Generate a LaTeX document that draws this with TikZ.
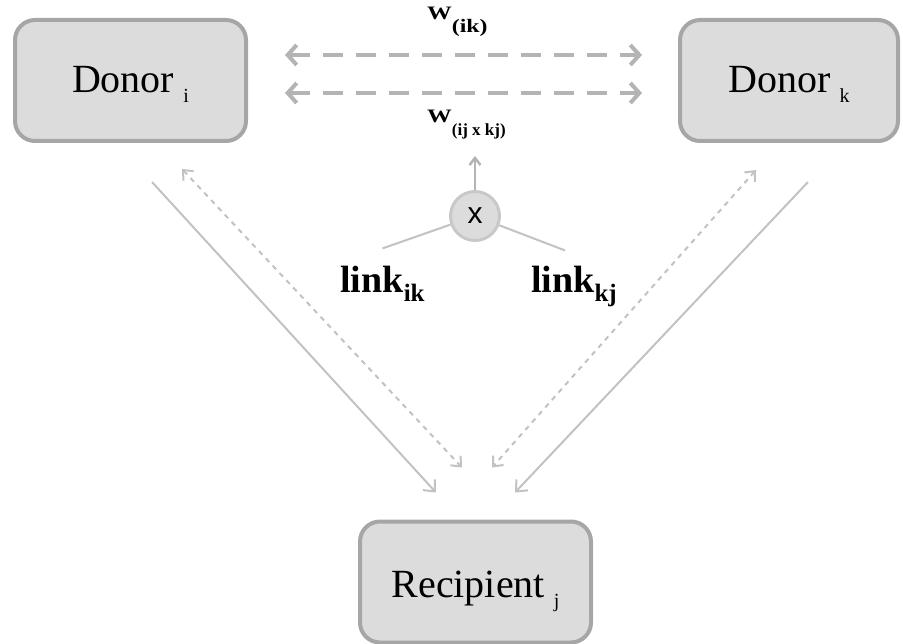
\documentclass[tikz,border=0pt]{standalone}
\usepackage{fontspec}
\setmainfont{Liberation Serif}
\newfontfamily\arialfont{Liberation Sans}
\usetikzlibrary{arrows.meta}
\definecolor{boxfill}{HTML}{DCDCDC}
\definecolor{boxline}{HTML}{A6A6A6}
\definecolor{arrowgray}{HTML}{B4B4B4}
\definecolor{linegray}{HTML}{C2C2C2}
\definecolor{ringgray}{HTML}{C8C8C8}
\newcommand{\fsz}[1]{\fontsize{#1}{#1}\selectfont}
\newcommand{\boxsub}[1]{\smash{\raisebox{-10pt}{\fsz{20}#1}}}
\tikzset{
  party/.style={draw=boxline, fill=boxfill, line width=4pt, rounded corners=20pt,
    minimum width=231pt, minimum height=121pt, inner sep=0pt, font=\fsz{40},
    text height=25pt, text depth=0pt},
  opnode/.style={circle, draw=ringgray, fill=boxfill, line width=3pt,
    minimum size=49pt, inner sep=0pt, font=\arialfont\fsz{30}},
  weightlink/.style={draw=arrowgray, line width=4pt, dash pattern=on 20pt off 13pt,
    {Straight Barb[length=9pt,width=20pt]}-{Straight Barb[length=9pt,width=20pt]}},
  flow/.style={draw=linegray, line width=2pt, -{Straight Barb[length=9pt,width=16pt]}},
  feedback/.style={draw=linegray, line width=2pt, dash pattern=on 5pt off 5pt,
    {Straight Barb[length=8pt,width=14pt]}-{Straight Barb[length=8pt,width=14pt]}},
  thin/.style={draw=linegray, line width=2pt},
  linklabel/.style={inner sep=2pt, anchor=base, font=\bfseries\fsz{38}},
  wlabel/.style={inner sep=0pt, anchor=base west, font=\bfseries}
}
\begin{document}
\begin{tikzpicture}[x=1pt, y=-1pt]
\useasboundingbox (0,0) rectangle (903,644);

% the three parties
\node[party] (Di) at (130.5,80.5) {Donor\hspace{9pt}\boxsub{i}};
\node[party, minimum width=218pt] (Dk) at (789,80.5) {Donor\hspace{9pt}\boxsub{k}};
\node[party, text height=30pt] (R) at (475.5,582) {Recipient\hspace{9pt}\boxsub{j}};

% product of the two link strengths
\node[opnode] (X) at (475,216) {x};
\node[linklabel] (L1) at (382.5,293) {link\raisebox{-9pt}{\fsz{25}ik}};
\node[linklabel] (L2) at (574,293) {link\raisebox{-9pt}{\fsz{25}kj}};
\coordinate (wtip) at (475,156);

% weight labels
\node[wlabel] (W1) at (427,20) {\fsz{19}\scalebox{1.3}[1]{W}\raisebox{-13pt}{\fsz{19}\scalebox{1.25}[1]{(ik)}}};
\node[wlabel] (W2) at (427,123) {\fsz{19}\scalebox{1.3}[1]{W}\raisebox{-13pt}{\fsz{17}(ij x kj)}};

% donor-donor weights
\draw[weightlink, shorten <=37pt, shorten >=36pt] ([yshift=25.5pt]Di.east) -- ([yshift=25.5pt]Dk.west);
\draw[weightlink, shorten <=37pt, shorten >=36pt] ([yshift=-12.5pt]Di.east) -- ([yshift=-12.5pt]Dk.west);

% links feeding the product
\draw[thin] (X) -- ([yshift=16pt]L1.north);
\draw[thin] (X) -- ([xshift=-9pt,yshift=14pt]L2.north);
\draw[draw=arrowgray, line width=2.5pt, -{Straight Barb[length=7pt,width=11pt]}] (X) -- (wtip);

% donor-recipient flows
\draw[flow] ([xshift=21.5pt,yshift=-39pt]Di.south) -- ([xshift=-39.5pt,yshift=27pt]R.north);
\draw[flow] ([xshift=19pt,yshift=-39pt]Dk.south) -- ([xshift=39.5pt,yshift=27pt]R.north);
\draw[feedback] ([xshift=51.5pt,yshift=-26pt]Di.south) -- ([xshift=-13.5pt,yshift=52pt]R.north);
\draw[feedback] ([xshift=-33pt,yshift=-27pt]Dk.south) -- ([xshift=16.5pt,yshift=52pt]R.north);
\end{tikzpicture}
\end{document}
